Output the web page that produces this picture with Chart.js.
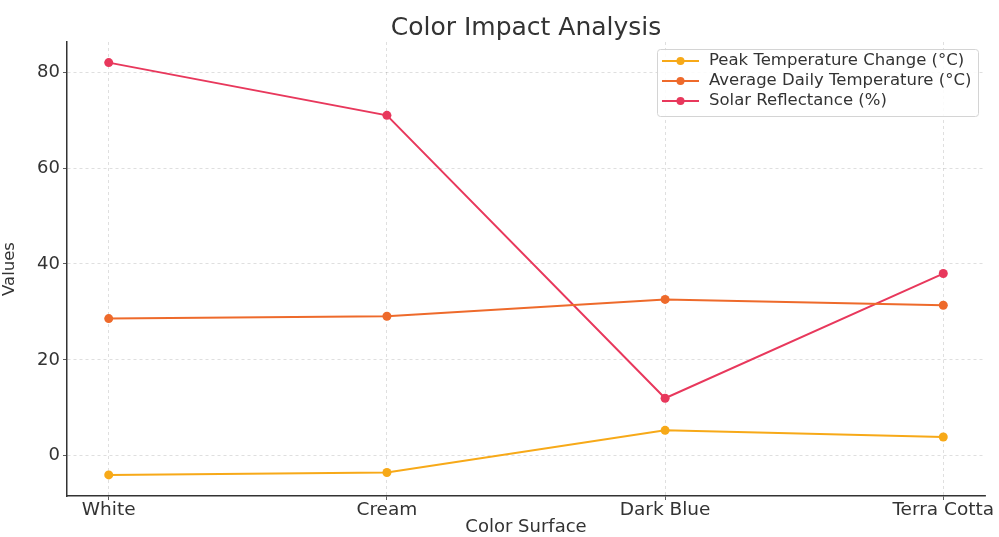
<!DOCTYPE html>
<html>
<head>
<meta charset="utf-8">
<script src="https://cdn.jsdelivr.net/npm/chart.js@4.4.1/dist/chart.umd.min.js"></script>
<style>
  html, body { margin: 0; padding: 0; background: #fff; }
  #wrap { width: 999px; height: 537px; }
</style>
</head>
<body>
<div id="wrap"><canvas id="c" width="999" height="537"></canvas></div>
<script>
// Surfaces compared
const categories = ['White', 'Cream', 'Dark Blue', 'Terra Cotta'];

// Measured values per surface
const peakTempChange = [-4.0, -3.5, 5.3, 3.9];
const avgDailyTemp = [28.6, 29.1, 32.6, 31.4];
const solarReflectance = [82, 71, 12, 38];

const yTickValues = [0, 20, 40, 60, 80];

const seriesNames = ['Peak Temperature Change (°C)', 'Average Daily Temperature (°C)', 'Solar Reflectance (%)'];
const seriesColors = ['#f7a918', '#ee6a2b', '#e8385c'];

const chartTitle = 'Color Impact Analysis';

const FONT = "'DejaVu Sans', sans-serif";
const TEXT = '#333333';

function toPoints(values) {
  return values.map((v, i) => ({ x: i, y: v }));
}

// Title centred over the plot area rather than the whole canvas
const plotTitle = {
  id: 'plotTitle',
  afterDraw(chart) {
    const ctx = chart.ctx;
    const area = chart.chartArea;
    ctx.save();
    ctx.font = '25px ' + FONT;
    ctx.fillStyle = TEXT;
    ctx.textAlign = 'center';
    ctx.textBaseline = 'middle';
    ctx.fillText(chartTitle, (area.left + area.right) / 2, 28);
    ctx.restore();
  }
};

// Legend box drawn inside the plot area, top-right
const innerLegend = {
  id: 'innerLegend',
  afterDraw(chart) {
    const ctx = chart.ctx;
    const area = chart.chartArea;
    const boxW = 321, boxH = 67;
    const x0 = area.right - boxW - 7, y0 = area.top + 7;
    ctx.save();
    ctx.fillStyle = 'rgba(255,255,255,0.85)';
    ctx.strokeStyle = '#d4d4d4';
    ctx.lineWidth = 1;
    ctx.beginPath();
    ctx.roundRect(x0 + 0.5, y0 + 0.5, boxW, boxH, 3);
    ctx.fill();
    ctx.stroke();
    ctx.font = '16.5px ' + FONT;
    ctx.textBaseline = 'middle';
    chart.data.datasets.forEach((ds, i) => {
      const cy = y0 + 12 + i * 20;
      ctx.strokeStyle = ds.borderColor;
      ctx.lineWidth = 2;
      ctx.beginPath();
      ctx.moveTo(x0 + 5, cy);
      ctx.lineTo(x0 + 42, cy);
      ctx.stroke();
      ctx.fillStyle = ds.borderColor;
      ctx.beginPath();
      ctx.arc(x0 + 23.5, cy, 4, 0, Math.PI * 2);
      ctx.fill();
      ctx.fillStyle = TEXT;
      ctx.fillText(ds.label, x0 + 52, cy);
    });
    ctx.restore();
  }
};

const datasets = [peakTempChange, avgDailyTemp, solarReflectance].map((vals, i) => ({
  label: seriesNames[i],
  data: toPoints(vals),
  borderColor: seriesColors[i],
  backgroundColor: seriesColors[i],
  borderWidth: 2,
  pointRadius: 4.5,
  pointHoverRadius: 4.5,
  pointBorderWidth: 0,
  tension: 0
}));

new Chart(document.getElementById('c'), {
  type: 'line',
  data: { datasets },
  plugins: [plotTitle, innerLegend],
  options: {
    responsive: false,
    animation: false,
    layout: { padding: { left: 0, right: 14, top: 42, bottom: 0 } },
    plugins: {
      legend: { display: false },
      tooltip: { enabled: false },
      title: { display: false }
    },
    scales: {
      x: {
        type: 'linear',
        min: -0.15,
        max: 3.15,
        afterBuildTicks(scale) { scale.ticks = categories.map((_, i) => ({ value: i })); },
        afterFit(scale) { scale.height = 41; },
        ticks: {
          color: TEXT,
          font: { family: FONT, size: 18.5 },
          padding: -1,
          maxRotation: 0,
          callback: (v) => categories[v]
        },
        grid: {
          color: 'rgba(0,0,0,0.16)',
          lineWidth: 0.8,
          tickLength: 4,
          tickColor: TEXT,
          tickBorderDash: []
        },
        border: { display: true, color: TEXT, width: 1.5, dash: [3, 3] },
        title: {
          display: true,
          text: 'Color Surface',
          color: TEXT,
          font: { family: FONT, size: 18 },
          padding: { top: 0, bottom: -1 }
        }
      },
      y: {
        min: -8.4,
        max: 86.3,
        afterBuildTicks(scale) { scale.ticks = yTickValues.map(v => ({ value: v })); },
        afterFit(scale) { scale.width = 67; },
        ticks: {
          color: TEXT,
          font: { family: FONT, size: 18 },
          padding: 3
        },
        grid: {
          color: 'rgba(0,0,0,0.16)',
          lineWidth: 0.8,
          tickLength: 4,
          tickColor: TEXT,
          tickBorderDash: []
        },
        border: { display: true, color: TEXT, width: 1.5, dash: [3, 3] },
        title: {
          display: true,
          text: 'Values',
          color: TEXT,
          font: { family: FONT, size: 16.5 },
          padding: { top: 0, bottom: 8 }
        }
      }
    }
  }
});
</script>
</body>
</html>
